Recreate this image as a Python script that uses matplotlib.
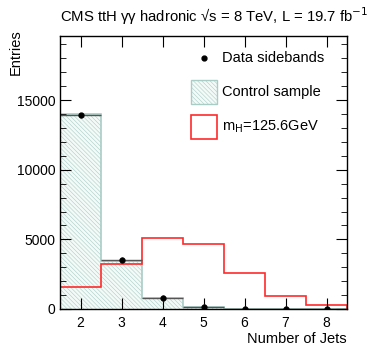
import numpy as np
import matplotlib.pyplot as plt
from matplotlib.patches import Rectangle

plt.rcParams['font.family'] = ['Liberation Sans', 'DejaVu Sans']
plt.rcParams['hatch.linewidth'] = 0.4
plt.rcParams['hatch.color'] = '#a9cdc5'

# number of jets bins
njets = [2, 3, 4, 5, 6, 7, 8]
data_sidebands = [13900, 3500, 810, 170, 25, 10, 5]
control_sample = [13980, 3450, 800, 150, 30, 10, 5]
signal_mh = [1600, 3260, 5080, 4650, 2610, 935, 265]

edges = np.arange(1.5, 9.0, 1.0)
hatch = '\\' * 8

fig = plt.figure(figsize=(3.74, 3.64), dpi=100)
ax = fig.add_axes([60 / 374, 55 / 364, 287 / 374, 273 / 364])

# control sample: hatched fill
ax.stairs(control_sample, edges, fill=True, facecolor='#f4faf8', edgecolor='#a9cdc5',
          hatch=hatch, linewidth=0.0)
ax.stairs(control_sample, edges, color='#a9cdc5', linewidth=1.2)

# signal
ax.stairs(signal_mh, edges, color='#ff2a2a', linewidth=1.2)

# data with bin-width x errors
ax.errorbar(njets, data_sidebands, xerr=0.5, yerr=[200] * len(njets),
            fmt='o', color='black', ms=3.5, ecolor='#555555', elinewidth=1.0, capsize=0)

ax.set_xlim(1.5, 8.5)
ax.set_ylim(0, 19600)
ax.set_xticks(njets)
ax.set_yticks([0, 5000, 10000, 15000])
ax.set_yticks(np.arange(0, 19600, 1000), minor=True)
ax.tick_params(which='both', direction='in', top=True, right=True, labelsize=10)
ax.tick_params(which='major', length=8)
ax.tick_params(which='minor', length=4)
ax.tick_params(axis='x', pad=5)

for s in ax.spines.values():
    s.set_linewidth(1.0)

ax.set_xlabel('Number of Jets', fontsize=10.5, loc='right')
ax.xaxis.set_label_coords(1.0, -0.085)
fig.text(16 / 374, 1 - 29 / 364, 'Entries', rotation=90, fontsize=10.5,
         ha='center', va='top')

fig.text(60 / 374, 1 - 22 / 364,
         'CMS ttH γγ hadronic √s = 8 TeV, L = 19.7 fb$^{-1}$',
         fontsize=10.7, va='baseline', ha='left')

# legend drawn in axes fraction coordinates
lx = (191 - 60) / 287
lw = 26 / 287
bh = 24 / 273
tx = (222 - 60) / 287
ax.plot([(204 - 60) / 287], [1 - (58 - 36) / 273], 'o', color='black', ms=3.5,
        transform=ax.transAxes, clip_on=False)
ax.text(tx, 1 - (58 - 36) / 273, 'Data sidebands', transform=ax.transAxes,
        fontsize=10.5, va='center')
ax.add_patch(Rectangle((lx, 1 - (104 - 36) / 273), lw, bh, transform=ax.transAxes,
                       facecolor='#f4faf8', edgecolor='#a9cdc5', hatch=hatch, linewidth=1.0))
ax.text(tx, 1 - (92 - 36) / 273, 'Control sample', transform=ax.transAxes,
        fontsize=10.5, va='center')
ax.add_patch(Rectangle((lx, 1 - (139 - 36) / 273), lw, bh, transform=ax.transAxes,
                       facecolor='white', edgecolor='#ff2a2a', linewidth=1.2))
ax.text(tx, 1 - (127 - 36) / 273, r'm$_{\mathrm{H}}$=125.6GeV',
        transform=ax.transAxes, fontsize=10.5, va='center')

fig.savefig('out.png', dpi=100)
